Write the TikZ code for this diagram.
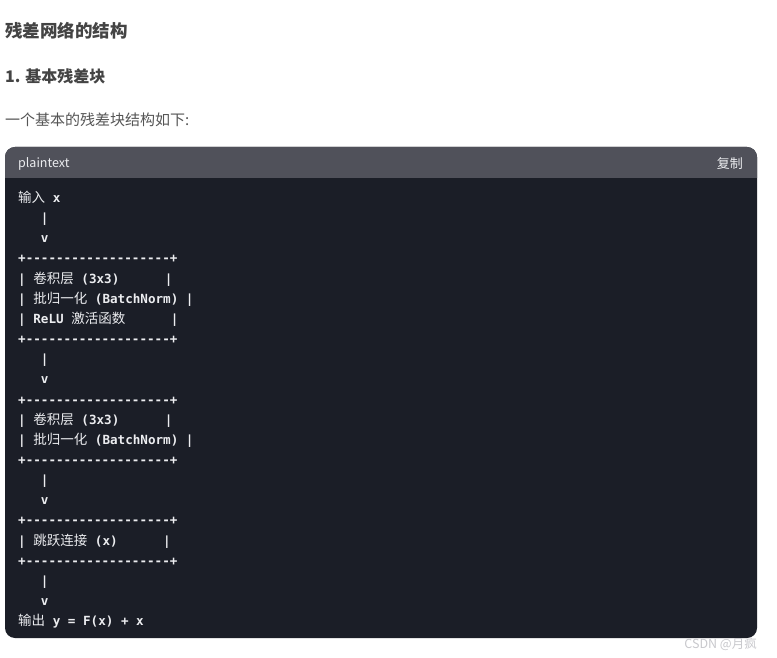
\documentclass[tikz,border=0pt]{standalone}
\usepackage{fontspec}
\setmonofont{DejaVu Sans Mono}
\newfontfamily\cjk{Noto Sans CJK SC}
\usetikzlibrary{positioning}

\definecolor{pagebg}{RGB}{255,255,255}
\definecolor{barbg}{RGB}{80,81,90}
\definecolor{codebg}{RGB}{27,30,39}
\definecolor{codefg}{RGB}{236,237,240}
\definecolor{headfg}{RGB}{68,68,68}
\definecolor{textfg}{RGB}{85,85,85}
\definecolor{markfg}{RGB}{200,200,204}

% CJK part inside a code line
\newcommand{\zh}[1]{{\cjk\mdseries\fontsize{13.5}{16}\selectfont #1}}

\begin{document}
\begin{tikzpicture}[
		x=1pt, y=-1pt,
		heading/.style={anchor=base west, inner sep=0pt, text=headfg, font=\cjk\bfseries},
		plain/.style={anchor=base west, inner sep=0pt, text=textfg, font=\cjk\fontsize{15}{18}\selectfont},
		codeline/.style={anchor=base west, inner sep=0pt, text=codefg, font=\ttfamily\bfseries\fontsize{12.6}{15}\selectfont},
		barlabel/.style={inner sep=0pt, text=codefg, font=\cjk\fontsize{12.5}{15}\selectfont}
		]
		\fill[pagebg] (0,0) rectangle (777,658);
		\useasboundingbox (0,0) rectangle (777,658);

		% headings above the block
		\node[heading, font=\cjk\bfseries\fontsize{17.5}{20}\selectfont] (title) at (5,37.5) {残差网络的结构};
		\node[heading, font=\cjk\bfseries\fontsize{16}{19}\selectfont] (subtitle) at (5,83) {1. 基本残差块};
		\node[plain] (intro) at (5,125.7) {一个基本的残差块结构如下:};

		% code block
		\fill[codebg, rounded corners=10pt] (5,147) rectangle (757,638);
		\fill[barbg] (5,178) {[rounded corners=10pt] -- (5,147) -- (757,147)} -- (757,178) -- cycle;
		\node[barlabel, anchor=base west] (lang) at (18,167.5) {plaintext};
		\node[barlabel, anchor=base east, font=\cjk\fontsize{13}{15}\selectfont] (copy) at (743,168) {复制};

		% code lines
		\foreach \ln [count=\i] in {
				{\zh{输入}~x},
				{~~~|},
				{~~~v},
				{+-------------------+},
				{|~\zh{卷积层}~(3x3)~~~~~~|},
				{|~\zh{批归一化}~(BatchNorm)~|},
				{|~ReLU~\zh{激活函数}~~~~~~|},
				{+-------------------+},
				{~~~|},
				{~~~v},
				{+-------------------+},
				{|~\zh{卷积层}~(3x3)~~~~~~|},
				{|~\zh{批归一化}~(BatchNorm)~|},
				{+-------------------+},
				{~~~|},
				{~~~v},
				{+-------------------+},
				{|~\zh{跳跃连接}~(x)~~~~~~|},
				{+-------------------+},
				{~~~|},
				{~~~v},
				{\zh{输出}~y~=~F(x)~+~x}}
			\node[codeline] (line\i) at (18,202.5+20.15*\i-20.15) {\ln};

		% watermark
		\node[anchor=base east, inner sep=0pt, text=markfg, font=\cjk\fontsize{12.5}{14}\selectfont] (mark) at (757,648.5) {CSDN @月疯};
	\end{tikzpicture}
\end{document}
